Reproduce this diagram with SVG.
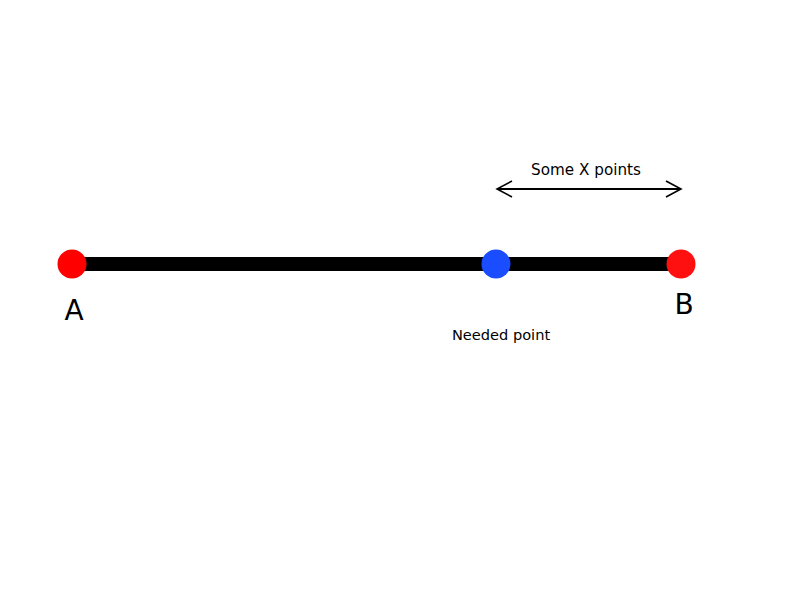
<svg xmlns="http://www.w3.org/2000/svg" width="800" height="600" viewBox="0 0 800 600">
<style>
.lbl{font-family:"DejaVu Sans",sans-serif;fill:#000}
.pt{stroke:none}
</style>
<defs>
<marker id="open" markerWidth="20" markerHeight="20" refX="16" refY="10" orient="auto-start-reverse" markerUnits="userSpaceOnUse">
<path d="M1,2 L16,10 L1,18" fill="none" stroke="#000" stroke-width="1.6"/>
</marker>
</defs>
<rect width="800" height="600" fill="#fff"/>
<g id="connectors">
<line x1="497" y1="189" x2="681" y2="189" stroke="#000" stroke-width="2" marker-start="url(#open)" marker-end="url(#open)"/>
<line x1="72" y1="264" x2="681" y2="264" stroke="#000" stroke-width="14"/>
</g>
<g id="nodeA"><circle class="pt" cx="72" cy="264" r="14.5" fill="#ff0000"/><text class="lbl" x="74" y="320" font-size="28" text-anchor="middle">A</text></g>
<g id="needed"><circle class="pt" cx="496" cy="264" r="14.5" fill="#1a4dff"/><text class="lbl" x="501" y="340" font-size="14.6" text-anchor="middle">Needed point</text></g>
<g id="nodeB"><circle class="pt" cx="681" cy="264" r="14.5" fill="#ff1010"/><text class="lbl" x="684" y="314" font-size="28" text-anchor="middle">B</text></g>
<g id="range"><text class="lbl" x="586" y="175" font-size="15.2" text-anchor="middle">Some X points</text></g>
</svg>
